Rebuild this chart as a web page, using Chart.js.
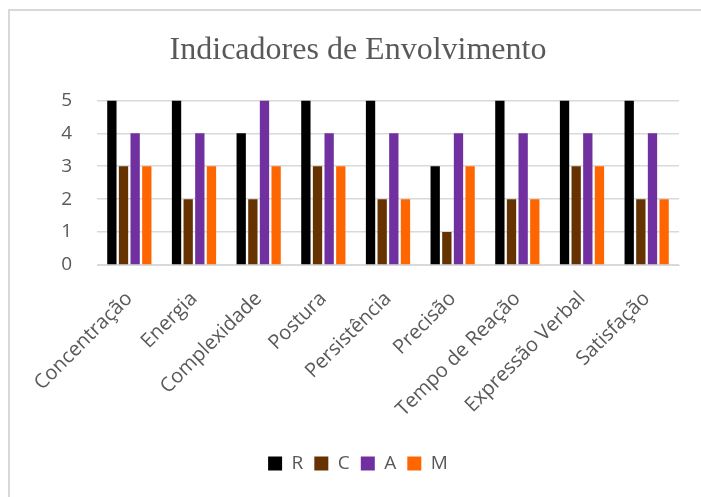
<!DOCTYPE html>
<html>
<head>
<meta charset="utf-8">
<script src="https://cdn.jsdelivr.net/npm/chart.js@4/dist/chart.umd.min.js"></script>
<style>
  html, body { margin: 0; padding: 0; background: #ffffff; }
  #wrap { position: relative; width: 701px; height: 497px; }
</style>
</head>
<body>
<div id="wrap"><canvas id="c" width="701" height="497"></canvas></div>
<script>
const categories = ["Concentração", "Energia", "Complexidade", "Postura", "Persistência", "Precisão", "Tempo de Reação", "Expressão Verbal", "Satisfação"];
const seriesR = [5, 5, 4, 5, 5, 3, 5, 5, 5];
const seriesC = [3, 2, 2, 3, 2, 1, 2, 3, 2];
const seriesA = [4, 4, 5, 4, 4, 4, 4, 4, 4];
const seriesM = [3, 3, 3, 3, 2, 3, 2, 3, 2];
const yTicks = [0, 1, 2, 3, 4, 5];

const frame = {
  id: 'frame',
  beforeDraw(chart) {
    const ctx = chart.ctx;
    ctx.save();
    ctx.fillStyle = '#ffffff';
    ctx.fillRect(0, 0, chart.width, chart.height);
    ctx.fillStyle = '#d9d9d9';
    ctx.fillRect(8, 9, 2, chart.height - 9);
    ctx.fillRect(8, 9, chart.width - 8, 2);
    ctx.restore();
  }
};

const textColor = '#595959';
new Chart(document.getElementById('c'), {
  type: 'bar',
  data: {
    labels: categories,
    datasets: [
      { label: 'R', data: seriesR, backgroundColor: '#000000' },
      { label: 'C', data: seriesC, backgroundColor: '#663300' },
      { label: 'A', data: seriesA, backgroundColor: '#7030A0' },
      { label: 'M', data: seriesM, backgroundColor: '#FF6600' }
    ]
  },
  options: {
    responsive: false,
    animation: false,
    devicePixelRatio: 1,
    categoryPercentage: 0.72,
    barPercentage: 0.8,
    layout: { padding: { left: 37, right: 22, top: 0, bottom: 14 } },
    plugins: {
      title: {
        display: true,
        text: 'Indicadores de Envolvimento',
        color: textColor,
        font: { family: '"Liberation Serif", "Times New Roman", serif', size: 32, weight: 'normal' },
        padding: { top: 31, bottom: 31 }
      },
      legend: {
        position: 'bottom',
        labels: {
          color: textColor,
          font: { family: '"Open Sans", sans-serif', size: 19 },
          boxWidth: 14,
          boxHeight: 14,
          padding: 11
        }
      },
      tooltip: { enabled: false }
    },
    scales: {
      x: {
        grid: { display: false, drawTicks: false },
        border: { display: true, color: '#d9d9d9', width: 1 },
        ticks: {
          color: textColor,
          font: { family: '"Open Sans", sans-serif', size: 20 },
          maxRotation: 45,
          minRotation: 45,
          padding: 22,
          autoSkip: false
        },
        afterFit(scale) { scale.height = 178; }
      },
      y: {
        min: 0,
        max: 5,
        afterBuildTicks(scale) { scale.ticks = yTicks.map(v => ({ value: v })); },
        grid: { color: '#d9d9d9', lineWidth: 1.5, drawTicks: false },
        border: { display: false },
        ticks: {
          color: textColor,
          font: { family: '"Open Sans", sans-serif', size: 19 },
          padding: 25
        },
        afterFit(scale) { scale.width = 60; }
      }
    }
  },
  plugins: [frame]
});
</script>
</body>
</html>
